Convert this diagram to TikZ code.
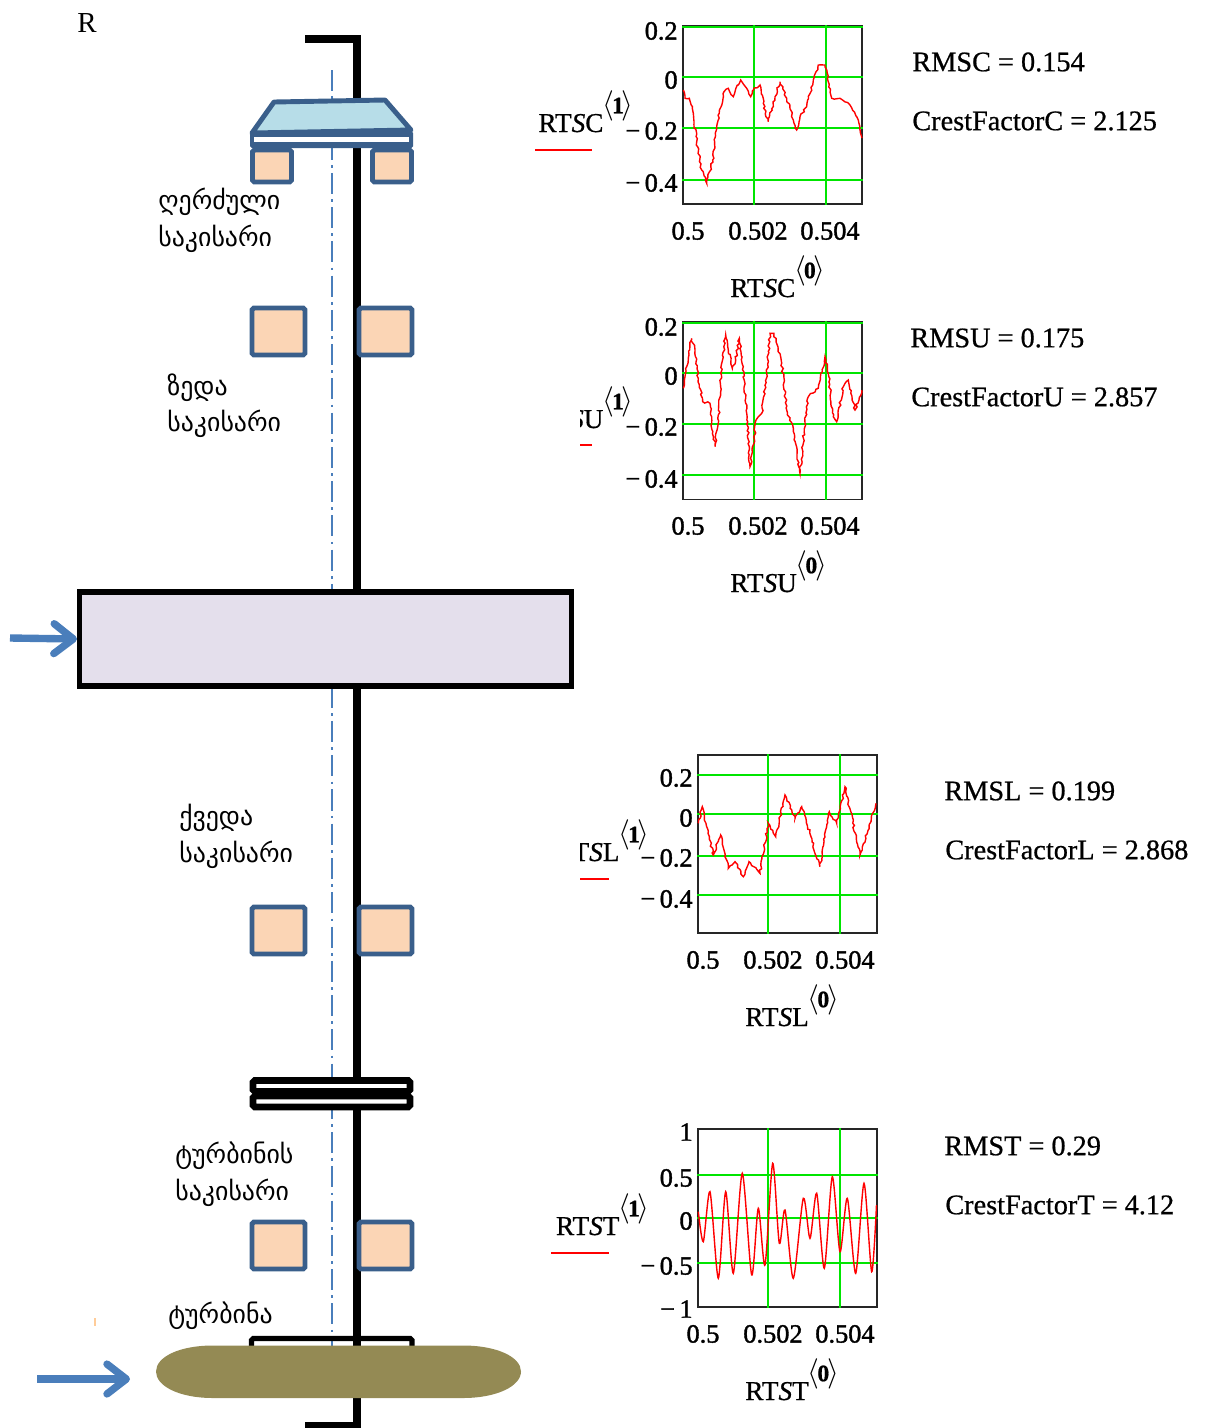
\documentclass[tikz,border=0pt]{standalone}
\usepackage{fontspec}
\setmainfont{Liberation Serif}
\newfontfamily\geofont{DejaVu Sans}
\newfontfamily\rtfont[FakeBold=0.7]{Liberation Serif}
\newfontfamily\tickfont[FakeBold=1.4]{Liberation Serif}
\usetikzlibrary{arrows.meta, decorations.pathmorphing}
\definecolor{brgblue}{HTML}{3A5F8B}
\definecolor{brgfill}{HTML}{FBD5B5}
\definecolor{thrustfill}{HTML}{B7DDE8}
\definecolor{rotorfill}{HTML}{E4DFEC}
\definecolor{turbfill}{HTML}{948A54}
\definecolor{feedblue}{HTML}{4A7EBB}
\newcommand{\rtlabel}[2]{#1\kern-0.6pt\raisebox{1.5ex}{\fontsize{16}{18}\selectfont$\langle$\kern-1.2pt\fontsize{13.5}{18}\selectfont\textbf{#2}\kern-1.2pt\fontsize{16}{18}\selectfont$\rangle$}}
\tikzset{
  shaftline/.style={line width=4pt, black},
  axisline/.style={line width=0.6pt, feedblue, dash pattern=on 12pt off 3pt on 1.5pt off 3pt},
  brgbox/.style={rectangle, rounded corners=1pt, draw=brgblue, fill=brgfill, line width=2.8pt,
                 minimum width=1.06cm, minimum height=0.94cm, inner sep=0pt},
  smallbrg/.style={brgbox, minimum width=0.78cm, minimum height=0.64cm},
  couplingbox/.style={rectangle, rounded corners=1pt, draw=black, fill=white, line width=3.8pt,
                      inner sep=0pt, minimum width=3.14cm, minimum height=0.22cm},
  feedarrow/.style={-{Straight Barb[length=11pt, width=17pt, round, line width=4.2pt]},
                    line width=4.2pt, feedblue},
  gelabel/.style={anchor=north west, align=left, inner sep=0pt,
                  font=\geofont\fontsize{14.7}{21}\selectfont},
  rtframe/.style={rectangle, draw=black!85, line width=1pt, minimum width=3.58cm,
                  minimum height=3.56cm, inner sep=0pt},
  rtgrid/.style={line width=0.9pt, green!90!black},
  rtcurve/.style={line width=0.8pt, red, decorate,
                  decoration={random steps, segment length=1.6pt, amplitude=0.6pt}},
  rttick/.style={inner sep=0pt, font=\tickfont\fontsize{15}{16}\selectfont},
  rtvalue/.style={anchor=west, inner sep=0pt, font=\rtfont\fontsize{16.1}{18}\selectfont},
  rtname/.style={anchor=base west, inner sep=0pt, font=\rtfont\fontsize{15.5}{18}\selectfont},
  rtunder/.style={line width=0.8pt, red},
}
\begin{document}
\begin{tikzpicture}[x=0.02cm, y=-0.02cm]
  \useasboundingbox (0,0) rectangle (1206,1428);
  % Axis and shaft
  \coordinate (axistop) at (332,70);
  \coordinate (axisbot) at (332,1392);
  \draw[axisline] (axistop) -- (axisbot);
  \coordinate (shafttopend) at (305,39);
  \coordinate (shafttop) at (357,39);
  \coordinate (shaftbot) at (357,1425);
  \coordinate (shaftbotend) at (305,1425);
  \draw[shaftline] (shafttopend) -- (shafttop) -- (shaftbot) -- (shaftbotend);
  % Thrust bearing
  \node[smallbrg] (thrustL) at (272,166) {};
  \node[smallbrg] (thrustR) at (392,166) {};
  \draw[line width=2.8pt, brgblue, fill=thrustfill, line join=round]
    (252,133) -- (274,102) -- (385,100) -- (411,130) -- cycle;
  \fill[brgblue, rounded corners=1pt] (250,131) rectangle (413,148);
  \fill[white] (254,137) rectangle (409,142);
  % Upper, lower and turbine bearings
  \foreach \bname/\ypos in {upper/331.5, lower/930.5, turb/1245.5} {
    \node[brgbox] (\bname L) at (278.5,\ypos) {};
    \node[brgbox] (\bname R) at (385.5,\ypos) {};
  }
  % Rotor
  \node[rectangle, draw=black, fill=rotorfill, line width=2.9pt, inner sep=0pt,
        minimum width=9.84cm, minimum height=1.88cm] (rotor) at (325.5,639) {};
  \coordinate (rotorfeed) at (10,638);
  \draw[feedarrow] (rotorfeed) -- (rotor.west);
  % Coupling
  \node[couplingbox] (coupA) at (331.5,1086) {};
  \node[couplingbox] (coupB) at (331.5,1101.5) {};
  % Turbine
  \draw[line width=2.9pt, rounded corners=1pt] (251.5,1352) -- (251.5,1338.5) -- (412,1338.5) -- (412,1352);
  \fill[turbfill] (213,1345.5) -- (463,1345.5) .. controls (497,1345.5) and (521,1357) .. (521,1371.5)
    .. controls (521,1386) and (497,1398) .. (463,1398) -- (213,1398)
    .. controls (179,1398) and (156,1386) .. (156,1371.5)
    .. controls (156,1357) and (179,1345.5) .. (213,1345.5) -- cycle;
  \coordinate (turbstart) at (37,1379);
  \coordinate (turbfeed) at (130,1379);
  \draw[feedarrow] (turbstart) -- (turbfeed);
  \coordinate (specA) at (95,1318);
  \coordinate (specB) at (95,1326);
  \draw[line width=0.7pt, orange!40] (specA) -- (specB);
  % Left labels
  \node[inner sep=0pt, font=\fontsize{16.5}{18}\selectfont] (rlabel) at (87,23) {R};
  \node[gelabel] (lblthrust) at (158,188) {ღერძული\\საკისარი};
  \node[gelabel] (lblupper) at (167,373) {ზედა\\საკისარი};
  \node[gelabel] (lbllower) at (179,804) {ქვედა\\საკისარი};
  \node[gelabel] (lblturb) at (175,1142) {ტურბინის\\საკისარი};
  \node[gelabel] (lblturbine) at (168,1302) {ტურბინა};
  % Chart C
  \node[rtframe] (frameC) at (772.5,115) {};
  \foreach \ypos in {27,77,128,180}
    \draw[rtgrid] (frameC.west |- 0,\ypos) -- (frameC.east |- 0,\ypos);
  \foreach \xpos in {754,826}
    \draw[rtgrid] (\xpos,0 |- frameC.north) -- (\xpos,0 |- frameC.south);
  \draw[rtcurve] plot coordinates {(683.3,90) (685,98.3) (689.3,98.3) (693.3,113.3) (696.7,141.7)
    (701.7,170) (706.7,183.3) (712.7,160) (716.7,126.7) (724,91.7) (728.3,88.3) (733.3,96.7) (738.3,85)
    (740.7,80) (746.7,88.3) (750.7,96.7) (753.3,90) (760,85) (763.3,103.3) (768,121.7) (775,96.7)
    (780,81.7) (786.7,98.3) (796.7,130) (800,116.7) (806.7,106.7) (813.3,80) (818.3,65) (825,65)
    (831.7,98.3) (840,98.3) (850,105) (858.3,120) (861.5,138)};
  \foreach \ypos/\ylab in {31/0.2, 80/0, 131/{−\,0.2}, 183/{−\,0.4}}
    \node[rttick, anchor=east] (tickC\ypos) at (678,\ypos) {\ylab};
  \foreach \xpos/\xlab in {688/0.5, 758/0.502, 830/0.504}
    \node[rttick] (tickCx\xpos) at (\xpos,231) {\xlab};
  \node[rtname, anchor=base east] (nameCy) at (634,132) {\rtlabel{RT\textit{S}C}{1}};
  \node[rtname] (nameCx) at (730,297) {\rtlabel{RT\textit{S}C}{0}};
  \coordinate (underCa) at (535,150);
  \coordinate (underCb) at (592,150);
  \draw[rtunder] (underCa) -- (underCb);
  \node[rtvalue] (rmsC) at (912,62) {RMSC = 0.154};
  \node[rtvalue] (crestC) at (912,121) {CrestFactorC = 2.125};
  % Chart U
  \node[rtframe] (frameU) at (772.5,410.5) {};
  \foreach \ypos in {323,373,424,475}
    \draw[rtgrid] (frameU.west |- 0,\ypos) -- (frameU.east |- 0,\ypos);
  \foreach \xpos in {754,826}
    \draw[rtgrid] (\xpos,0 |- frameU.north) -- (\xpos,0 |- frameU.south);
  \draw[rtcurve] plot coordinates {(683.3,388.3) (685,376.7) (691.7,338.3) (695,350) (698.3,378.3)
    (702.7,401.7) (710,403.3) (711.7,423.3) (715,446.7) (718.3,423.3) (721.7,363.3) (725.7,335)
    (728.3,350) (732.3,368.3) (735.7,360) (739.3,338.3) (743.3,366.7) (746.7,413.3) (750,466.7)
    (754,443.3) (756,420) (761.7,413.3) (766.7,373.3) (770,333.3) (774,333.3) (781.7,363.3)
    (786.7,410) (793.3,428.3) (800,473.3) (805,423.3) (808.3,396.7) (818.3,388.3) (825,356.7)
    (828.3,373.3) (833.3,416.7) (836.7,421.7) (843.3,386.7) (848.3,380) (855,410) (861.7,390)};
  \foreach \ypos/\ylab in {327/0.2, 376/0, 427/{−\,0.2}, 479/{−\,0.4}}
    \node[rttick, anchor=east] (tickU\ypos) at (678,\ypos) {\ylab};
  \foreach \xpos/\xlab in {688/0.5, 758/0.502, 830/0.504}
    \node[rttick] (tickUx\xpos) at (\xpos,526) {\xlab};
  \begin{scope}
    \clip (580,380) rectangle (640,460);
    \node[rtname, anchor=base east] (nameUy) at (634,428) {\rtlabel{RT\textit{S}U}{1}};
    \coordinate (underUa) at (540,445);
    \coordinate (underUb) at (592,445);
    \draw[rtunder] (underUa) -- (underUb);
  \end{scope}
  \node[rtname] (nameUx) at (730,592) {\rtlabel{RT\textit{S}U}{0}};
  \node[rtvalue] (rmsU) at (910,338) {RMSU = 0.175};
  \node[rtvalue] (crestU) at (911,397) {CrestFactorU = 2.857};
  % Chart L
  \node[rtframe] (frameL) at (787.5,844) {};
  \foreach \ypos in {775,814,856,895}
    \draw[rtgrid] (frameL.west |- 0,\ypos) -- (frameL.east |- 0,\ypos);
  \foreach \xpos in {768,840}
    \draw[rtgrid] (\xpos,0 |- frameL.north) -- (\xpos,0 |- frameL.south);
  \draw[rtcurve] plot coordinates {(698.3,823.3) (702.3,806.7) (713.3,855) (720.7,835) (728.3,868.3)
    (735,861.7) (743.3,876.7) (749,861.7) (760,873.3) (768.3,823.3) (775.7,836.7) (785,795) (795,818.3)
    (801.7,806.7) (820,866.7) (829.3,811.7) (836.7,823.3) (845,786.7) (860,855) (870,823.3) (876,803.3)};
  \foreach \ypos/\ylab in {778/0.2, 818/0, 858/{−\,0.2}, 899/{−\,0.4}}
    \node[rttick, anchor=east] (tickL\ypos) at (693,\ypos) {\ylab};
  \foreach \xpos/\xlab in {703/0.5, 773/0.502, 845/0.504}
    \node[rttick] (tickLx\xpos) at (\xpos,960) {\xlab};
  \begin{scope}
    \clip (580,810) rectangle (655,890);
    \node[rtname, anchor=base east] (nameLy) at (650,861) {\rtlabel{RT\textit{S}L}{1}};
    \coordinate (underLa) at (552,879);
    \coordinate (underLb) at (609,879);
    \draw[rtunder] (underLa) -- (underLb);
  \end{scope}
  \node[rtname] (nameLx) at (745,1026) {\rtlabel{RT\textit{S}L}{0}};
  \node[rtvalue] (rmsL) at (944,791) {RMSL = 0.199};
  \node[rtvalue] (crestL) at (945,850) {CrestFactorL = 2.868};
  % Chart T
  \node[rtframe] (frameT) at (787.5,1218) {};
  \foreach \ypos in {1175,1218,1263}
    \draw[rtgrid] (frameT.west |- 0,\ypos) -- (frameT.east |- 0,\ypos);
  \foreach \xpos in {768,840}
    \draw[rtgrid] (\xpos,0 |- frameT.north) -- (\xpos,0 |- frameT.south);
  \draw[line width=0.8pt, red] plot[smooth, tension=0.45] coordinates {(698.3,1211.7) (703.3,1241.7) (710,1191.7)
    (718.3,1278.3) (725.7,1191.7) (733.3,1273.3) (742.3,1173.3) (751.7,1275) (758.3,1208.3) (765,1265)
    (772.7,1163.3) (779.3,1243.3) (785,1210) (793.3,1278.3) (803.3,1198.3) (810,1238.3) (816.7,1193.3)
    (824.3,1268.3) (832.3,1176.7) (840,1251.7) (847.3,1198.3) (855.7,1273.3) (864,1183.3) (871.7,1271.7)
    (876.5,1205)};
  \foreach \ypos/\ylab in {1132/1, 1178/0.5, 1221/0, 1266/{−\,0.5}, 1309/{−\,1}}
    \node[rttick, anchor=east] (tickT\ypos) at (693,\ypos) {\ylab};
  \foreach \xpos/\xlab in {703/0.5, 773/0.502, 845/0.504}
    \node[rttick] (tickTx\xpos) at (\xpos,1334) {\xlab};
  \node[rtname, anchor=base east] (nameTy) at (650,1235) {\rtlabel{RT\textit{S}T}{1}};
  \node[rtname] (nameTx) at (745,1400) {\rtlabel{RT\textit{S}T}{0}};
  \coordinate (underTa) at (551,1253);
  \coordinate (underTb) at (609,1253);
  \draw[rtunder] (underTa) -- (underTb);
  \node[rtvalue] (rmsT) at (944,1146) {RMST = 0.29};
  \node[rtvalue] (crestT) at (945,1205) {CrestFactorT = 4.12};
\end{tikzpicture}
\end{document}
